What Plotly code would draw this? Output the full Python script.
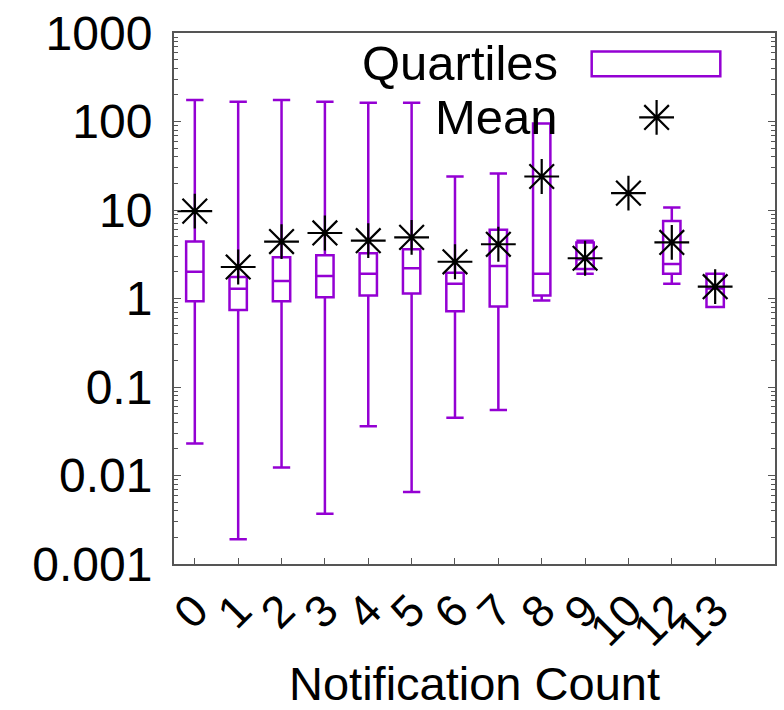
import plotly.graph_objects as go

# ---- data ----
categories = ["0", "1", "2", "3", "4", "5", "6", "7", "8", "9", "10", "12", "13"]
box_categories = ["0", "1", "2", "3", "4", "5", "6", "7", "8", "9", "12", "13"]
lower_whisker = [0.023, 0.0019, 0.0123, 0.0037, 0.036, 0.0065, 0.045, 0.055, 0.95, 1.9, 1.47, 0.8]
q1_values = [0.93, 0.74, 0.93, 1.03, 1.08, 1.14, 0.72, 0.81, 1.08, 2.15, 1.9, 0.8]
median_values = [2.0, 1.29, 1.58, 1.8, 1.9, 2.2, 1.47, 2.33, 1.9, 2.78, 2.45, 1.3]
q3_values = [4.4, 1.75, 2.93, 3.08, 3.25, 3.6, 1.95, 6.0, 95, 4.3, 7.5, 1.9]
upper_whisker = [175, 167, 175, 167, 163, 163, 23.9, 25.8, 95, 4.5, 10.7, 1.9]
mean_values = [9.7, 2.27, 4.4, 5.5, 4.5, 4.9, 2.6, 4.1, 23.9, 2.85, 15.5, 4.3, 1.36]
y_tick_values = [0.001, 0.01, 0.1, 1, 10, 100, 1000]
y_tick_labels = ["0.001", "0.01", "0.1", "1", "10", "100", "1000"]

PURPLE = "#9400D3"
FONT = "Liberation Sans, Arial, sans-serif"
FS_TICK = 48
FS_TITLE = 47
FS_LEG = 49

pos = {c: i for i, c in enumerate(categories)}
box_x = [pos[c] for c in box_categories]
mean_x = [pos[c] for c in categories]

fig = go.Figure()
fig.add_trace(go.Box(
    x=box_x, q1=q1_values, median=median_values, q3=q3_values,
    lowerfence=lower_whisker, upperfence=upper_whisker,
    width=0.4, whiskerwidth=1.0,
    line=dict(color=PURPLE, width=2.5),
    fillcolor="rgba(0,0,0,0)",
    boxpoints=False, showlegend=False, hoverinfo="skip",
))
fig.add_trace(go.Scatter(
    x=mean_x, y=mean_values, mode="markers",
    marker=dict(symbol="asterisk-open", size=29, color="black",
                line=dict(color="black", width=2.2)),
    showlegend=False,
))
# legend key for "Mean" on an overlay axis (0..1)
fig.add_trace(go.Scatter(
    x=[0.803], y=[0.841], mode="markers", xaxis="x2", yaxis="y2",
    marker=dict(symbol="asterisk-open", size=29, color="black",
                line=dict(color="black", width=2.2)),
    showlegend=False,
))

fig.update_layout(
    width=784, height=710,
    margin=dict(l=174, r=7, t=31, b=139),
    paper_bgcolor="white", plot_bgcolor="white",
    font=dict(family=FONT, size=FS_TICK, color="black"),
    showlegend=False,
    xaxis=dict(
        range=[-0.48, 13.38],
        tickmode="array", tickvals=list(range(len(categories))), ticktext=categories,
        tickangle=-45, ticks="inside", ticklen=6, tickcolor="#555",
        showline=True, linecolor="#555", linewidth=2, mirror=True,
        showgrid=False, zeroline=False,
        title=dict(text="Notification Count", standoff=14, font=dict(size=FS_TITLE)),
        tickfont=dict(size=FS_TICK - 3),
    ),
    yaxis=dict(
        type="log", range=[-3, 3],
        tickmode="array", tickvals=y_tick_values, ticktext=y_tick_labels,
        ticks="inside", ticklen=7, tickcolor="#555",
        minor=dict(ticks="inside", ticklen=4, tickcolor="#555", dtick="D1", showgrid=False),
        showline=True, linecolor="#555", linewidth=2, mirror="ticks",
        showgrid=False, zeroline=False,
        ticklabelstandoff=10,
        tickfont=dict(size=FS_TICK),
    ),
    xaxis2=dict(overlaying="x", range=[0, 1], visible=False, fixedrange=True),
    yaxis2=dict(overlaying="y", range=[0, 1], visible=False, fixedrange=True),
    annotations=[
        dict(text="Quartiles", xref="paper", yref="paper", x=0.643, y=0.943,
             xanchor="right", yanchor="middle", showarrow=False,
             font=dict(size=FS_LEG, family=FONT, color="black")),
        dict(text="Mean", xref="paper", yref="paper", x=0.643, y=0.841,
             xanchor="right", yanchor="middle", showarrow=False,
             font=dict(size=FS_LEG, family=FONT, color="black")),
    ],
    shapes=[
        dict(type="rect", xref="paper", yref="paper", x0=0.695, x1=0.909,
             y0=0.9185, y1=0.965, line=dict(color=PURPLE, width=2.5),
             fillcolor="rgba(0,0,0,0)"),
    ],
)

fig.write_html("out.html")
